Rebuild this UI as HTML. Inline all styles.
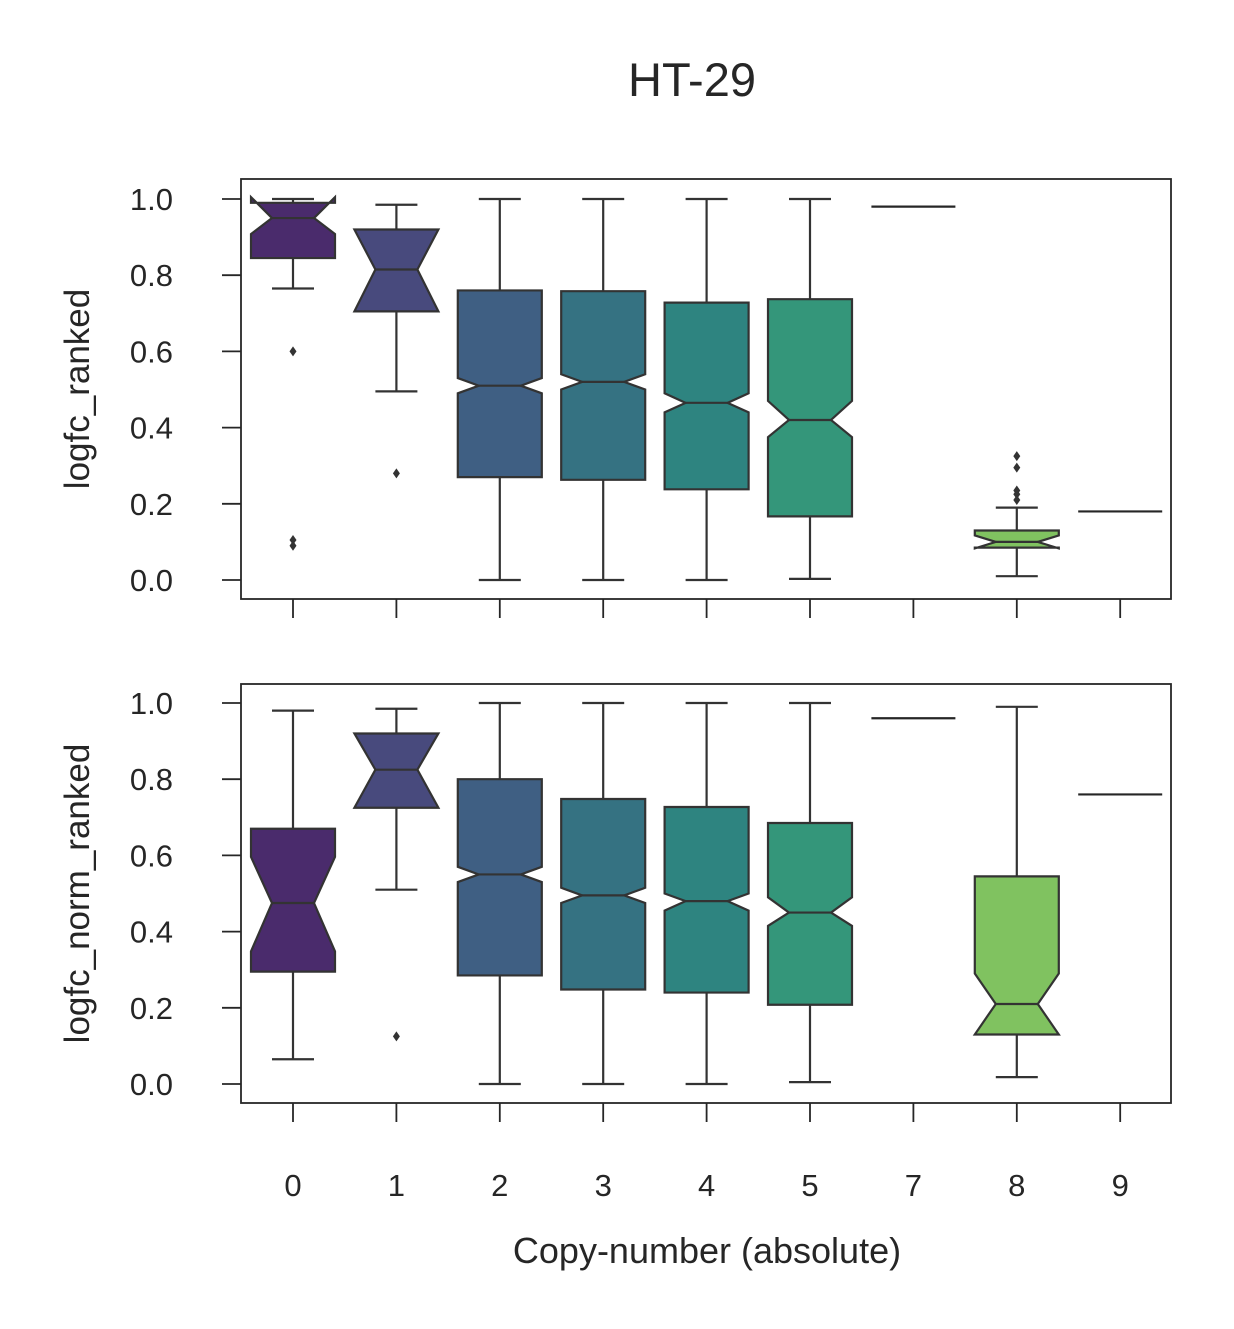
<!DOCTYPE html>
<html><head><meta charset="utf-8"><style>
body{margin:0;background:#fff;}
svg{display:block;font-family:"Liberation Sans","DejaVu Sans",sans-serif;}
</style></head><body>
<svg id="chart" width="1234" height="1329" viewBox="0 0 1234 1329">
<text x="692" y="96" font-size="47" text-anchor="middle" fill="#262626">HT-29</text>
<text x="707" y="1263" font-size="36" text-anchor="middle" fill="#262626">Copy-number (absolute)</text>
<g id="g"></g>
</svg>
<script>
const categories = ["0","1","2","3","4","5","7","8","9"];
const yTicks = [0,0.2,0.4,0.6,0.8,1.0];
const colors = ["#4a2b6c","#484a7d","#3f5f83","#357282","#2e8480","#34967a","#3fa87a","#80c260","#a0d050"];
// [q1, median, q3, notchLo, notchHi, whiskLo, whiskHi] ; null = single-value line
const topStats = [
 [0.845,0.95,0.99,0.908,1.005,0.765,1.0],
 [0.705,0.815,0.92,0.705,0.92,0.495,0.985],
 [0.27,0.51,0.76,0.49,0.53,0,1],
 [0.263,0.52,0.758,0.50,0.54,0,1],
 [0.238,0.465,0.728,0.44,0.49,0,1],
 [0.167,0.42,0.737,0.375,0.47,0.003,1],
 null,
 [0.085,0.10,0.13,0.083,0.117,0.01,0.19],
 null
];
const topSingle = [null,null,null,null,null,null,0.98,null,0.18];
const topFliers = [[0.6,0.105,0.09],[0.28],[],[],[],[],[],[0.325,0.295,0.235,0.225,0.21],[]];
const botStats = [
 [0.295,0.475,0.67,0.348,0.596,0.065,0.98],
 [0.725,0.825,0.92,0.725,0.92,0.51,0.985],
 [0.285,0.55,0.80,0.53,0.57,0,1],
 [0.248,0.495,0.748,0.475,0.515,0,1],
 [0.24,0.48,0.727,0.455,0.50,0,1],
 [0.208,0.45,0.685,0.415,0.49,0.005,1],
 null,
 [0.13,0.21,0.545,0.13,0.29,0.018,0.99],
 null
];
const botSingle = [null,null,null,null,null,null,0.96,null,0.76];
const botFliers = [[],[0.125],[],[],[],[],[],[],[]];

const NS="http://www.w3.org/2000/svg";
const g=document.getElementById('g');
function mk(tag,attrs,parent){const e=document.createElementNS(NS,tag);for(const k in attrs)e.setAttribute(k,attrs[k]);(parent||g).appendChild(e);return e;}
const xL=241,xR=1171;
const xScale=i=>293+i*103.4;
const BW=84;

function panel(top,bottom,y1,y0,stats,singles,fliers,label,name){
  const y=v=>y0+(y1-y0)*v;
  const pg=mk('g',{});
  
  
  const frame=mk('rect',{x:xL,y:top,width:xR-xL,height:bottom-top,fill:'none',stroke:'#262626','stroke-width':1.8},pg);
  
  
  yTicks.forEach(t=>{
    mk('line',{x1:222,x2:xL,y1:y(t),y2:y(t),stroke:'#262626','stroke-width':1.8},pg);
    const tx=mk('text',{x:173,y:y(t)+11,'font-size':31,'text-anchor':'end',fill:'#262626'},pg);
    tx.textContent=t.toFixed(1);
    
    
  });
  categories.forEach((c,i)=>{
    mk('line',{x1:xScale(i),x2:xScale(i),y1:bottom,y2:bottom+19,stroke:'#262626','stroke-width':1.8},pg);
  });
  const yl=mk('text',{x:0,y:0,'font-size':35,'text-anchor':'middle',fill:'#262626',transform:`translate(89,${(top+bottom)/2}) rotate(-90)`},pg);
  yl.textContent=label;
  
  
  stats.forEach((s,i)=>{
    const cx=xScale(i);
    if(!s){
      if(singles[i]!=null){
        const l=mk('line',{x1:cx-BW/2,x2:cx+BW/2,y1:y(singles[i]),y2:y(singles[i]),stroke:'#262626','stroke-width':2.2},pg);
        
        
      }
      return;
    }
    const [q1,md,q3,nl,nh,wl,wh]=s;
    const L=cx-BW/2,R=cx+BW/2,ml=cx-BW/4,mr=cx+BW/4;
    const bg=mk('g',{},pg);
    
    
    mk('line',{x1:cx,x2:cx,y1:y(q1),y2:y(wl),stroke:'#333','stroke-width':2.2},bg);
    mk('line',{x1:cx,x2:cx,y1:y(q3),y2:y(wh),stroke:'#333','stroke-width':2.2},bg);
    mk('line',{x1:cx-BW/4,x2:cx+BW/4,y1:y(wl),y2:y(wl),stroke:'#333','stroke-width':2.2},bg);
    mk('line',{x1:cx-BW/4,x2:cx+BW/4,y1:y(wh),y2:y(wh),stroke:'#333','stroke-width':2.2},bg);
    const pts=[[L,q1],[R,q1],[R,nl],[mr,md],[R,nh],[R,q3],[L,q3],[L,nh],[ml,md],[L,nl]].map(p=>p[0]+','+y(p[1])).join(' ');
    mk('polygon',{points:pts,fill:colors[i],stroke:'#333','stroke-width':2.2,'stroke-linejoin':'miter'},bg);
    mk('line',{x1:ml,x2:mr,y1:y(md),y2:y(md),stroke:'#333','stroke-width':2.2},bg);
    fliers[i].forEach(f=>{
      const d=mk('path',{d:`M${cx},${y(f)-5} L${cx+3.5},${y(f)} L${cx},${y(f)+5} L${cx-3.5},${y(f)} Z`,fill:'#333'},bg);
      
      
    });
  });
}
panel(179,599,199,580,topStats,topSingle,topFliers,'logfc_ranked','top-panel');
panel(684,1103,703,1084,botStats,botSingle,botFliers,'logfc_norm_ranked','bottom-panel');
categories.forEach((c,i)=>{
  const t=mk('text',{x:xScale(i),y:1196,'font-size':31,'text-anchor':'middle',fill:'#262626'});
  t.textContent=c;
  
  
});
</script>
</body></html>
